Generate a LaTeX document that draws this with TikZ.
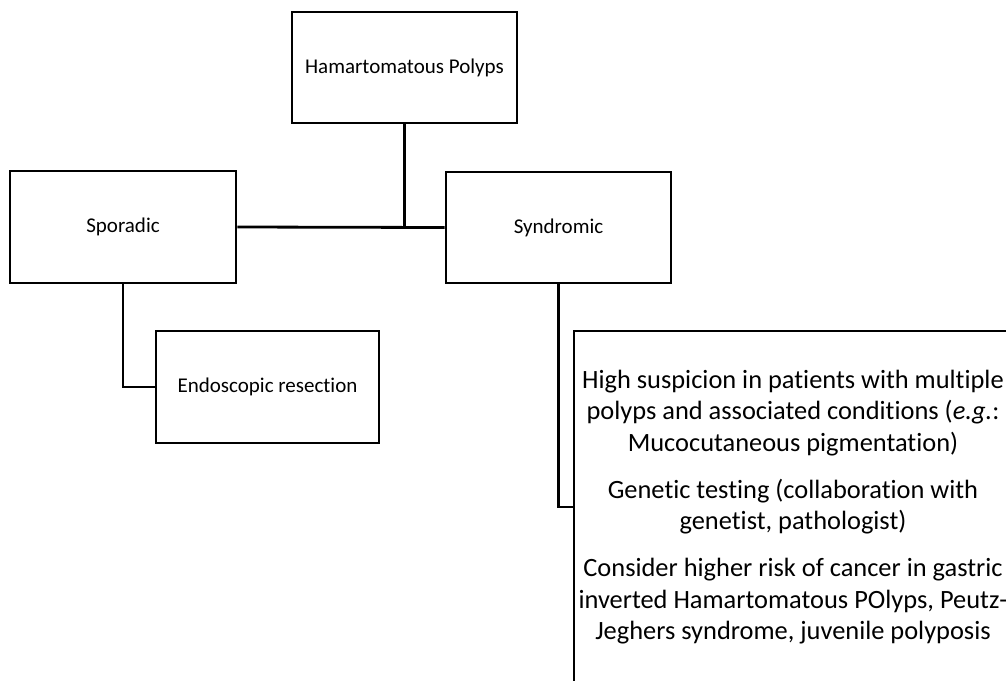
\documentclass[tikz,border=0pt]{standalone}
\usepackage{fontspec}
\setmainfont{Carlito}[Ligatures=NoCommon]
\begin{document}
\begin{tikzpicture}[x=1pt,y=-1pt,
  box/.style={draw=black, line width=2.8pt, fill=white, inner sep=0pt, align=center,
    font=\fontsize{21}{25}\selectfont},
  line/.style={draw=black, line width=2.8pt}]
\clip (0,0) rectangle (1006,680);
\fill[white] (0,0) rectangle (1006,680);
\node[box, minimum width=225pt, minimum height=111pt] (ham) at (404.5,67.5) {Hamartomatous Polyps};
\node[box, minimum width=226pt, minimum height=112pt] (spor) at (123,227) {Sporadic};
\node[box, minimum width=225pt, minimum height=111pt] (synd) at (558.5,227.5) {Syndromic};
\node[box, minimum width=223pt, minimum height=112pt] (endo) at (267.5,387) {Endoscopic resection};
\node[box, minimum width=438pt, minimum height=352pt, font=\fontsize{26.4}{31.5}\selectfont] (big) at (793,507)
 {High suspicion in patients with multiple\\ polyps and associated conditions (\textit{e.g.}:\\ Mucocutaneous pigmentation)\\[15.5pt]
  Genetic testing (collaboration with\\ genetist, pathologist)\\[15.5pt]
  Consider higher risk of cancer in gastric\\ inverted Hamartomatous POlyps, Peutz-\\ Jeghers syndrome, juvenile polyposis};
\coordinate (jn) at (ham.south |- spor.east);
\draw[line] (spor.east) -- (synd.west);
\draw[line] (ham.south) -- (jn);
\draw[line] (spor.south) |- (endo.west);
\draw[line] (synd.south) |- (big.west);
\end{tikzpicture}
\end{document}
